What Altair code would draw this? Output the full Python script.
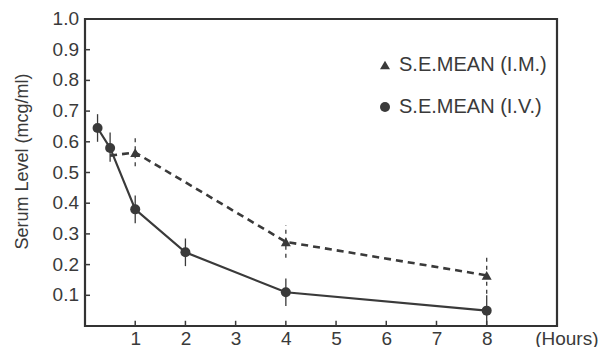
import altair as alt
import pandas as pd

# ---- data ----
iv_hours = [0.25, 0.5, 1, 2, 4, 8]
iv_level = [0.645, 0.58, 0.38, 0.24, 0.11, 0.05]
iv_lo = [0.60, 0.535, 0.335, 0.195, 0.065, 0.0]
iv_hi = [0.69, 0.63, 0.425, 0.285, 0.155, 0.10]

im_line_hours = [0.5, 1, 4, 8]
im_line_level = [0.555, 0.565, 0.274, 0.165]
im_hours = [1, 4, 8]
im_level = [0.565, 0.274, 0.165]
im_lo = [0.52, 0.222, 0.105]
im_hi = [0.625, 0.328, 0.225]

series_names = ["S.E.MEAN (I.M.)", "S.E.MEAN (I.V.)"]
x_tick_values = [1, 2, 3, 4, 5, 6, 7, 8]
y_tick_values = [0.1, 0.2, 0.3, 0.4, 0.5, 0.6, 0.7, 0.8, 0.9]
y_label_values = [0.1, 0.2, 0.3, 0.4, 0.5, 0.6, 0.7, 0.8, 0.9, 1.0]
y_label_texts = ["0.1", "0.2", "0.3", "0.4", "0.5", "0.6", "0.7", "0.8", "0.9", "1.0"]

INK = "#3a3a3a"
FONT = "Liberation Sans"

iv_df = pd.DataFrame({"h": iv_hours, "v": iv_level, "lo": iv_lo, "hi": iv_hi})
im_line_df = pd.DataFrame({"h": im_line_hours, "v": im_line_level})
im_df = pd.DataFrame({"h": im_hours, "v": im_level, "lo": im_lo, "hi": im_hi})
pts_df = pd.concat([
    pd.DataFrame({"h": im_hours, "v": im_level, "s": series_names[0]}),
    pd.DataFrame({"h": iv_hours, "v": iv_level, "s": series_names[1]}),
])
xt_df = pd.DataFrame({"t": x_tick_values})
yt_df = pd.DataFrame({"t": y_tick_values})
yl_df = pd.DataFrame({"t": y_label_values, "lab": y_label_texts})

xs = alt.Scale(domain=[0, 9.4], nice=False, zero=False)
ys = alt.Scale(domain=[0, 1.0], nice=False)

x_axis = alt.Axis(values=x_tick_values, labelPadding=3,
                  title="(Hours)", titleFontSize=19, titleAlign="right", titleAnchor="end",
                  titleBaseline="middle", titleX=513, titleY=12)
y_axis = alt.Axis(labels=False, title="Serum Level (mcg/ml)", titleFontSize=18, titleAngle=270,
                  titleAlign="center", titleBaseline="middle", titleX=-63, titleY=142)

base_x = alt.X("h:Q", scale=xs, axis=x_axis)
base_y = alt.Y("v:Q", scale=ys, axis=y_axis)

iv_line = alt.Chart(iv_df).mark_line(color=INK, strokeWidth=2.2).encode(x=base_x, y=base_y)
im_line = alt.Chart(im_line_df).mark_line(color=INK, strokeWidth=2.6, strokeDash=[7, 5]).encode(
    x=alt.X("h:Q", scale=xs), y=alt.Y("v:Q", scale=ys))

iv_err = alt.Chart(iv_df).mark_rule(color=INK, strokeWidth=1.3).encode(
    x=alt.X("h:Q", scale=xs), y=alt.Y("lo:Q", scale=ys), y2="hi:Q")
im_err = alt.Chart(im_df).mark_rule(color=INK, strokeWidth=1.3, strokeDash=[4, 4]).encode(
    x=alt.X("h:Q", scale=xs), y=alt.Y("lo:Q", scale=ys), y2="hi:Q")

points = alt.Chart(pts_df).mark_point(filled=True, opacity=1, color=INK, size=100).encode(
    x=alt.X("h:Q", scale=xs),
    y=alt.Y("v:Q", scale=ys),
    shape=alt.Shape("s:N", scale=alt.Scale(domain=series_names, range=["triangle-up", "circle"]),
                    legend=alt.Legend(orient="none", legendX=290, legendY=36, title=None,
                                      labelFontSize=20, labelFont=FONT, labelColor=INK,
                                      symbolSize=100, symbolFillColor=INK, symbolStrokeColor=INK,
                                      symbolStrokeWidth=0, rowPadding=22, labelOffset=4,
                                      padding=0)),
)

x_ticks = alt.Chart(xt_df).mark_rule(color=INK, strokeWidth=1.5).encode(
    x=alt.X("t:Q", scale=xs), y=alt.datum(0, scale=ys), y2=alt.datum(0.017))
y_ticks = alt.Chart(yt_df).mark_rule(color=INK, strokeWidth=1.5).encode(
    y=alt.Y("t:Q", scale=ys), x=alt.datum(0, scale=xs), x2=alt.datum(0.1))

y_labels = alt.Chart(yl_df).mark_text(
    align="right", baseline="middle", dx=-6, font=FONT, fontSize=19, color=INK
).encode(x=alt.datum(0, scale=xs), y=alt.Y("t:Q", scale=ys), text="lab:N")

chart = alt.layer(iv_line, im_line, iv_err, im_err, x_ticks, y_ticks, points, y_labels).properties(
    width=472, height=307,
    autosize=alt.AutoSizeParams(type="none"),
    padding={"left": 77, "top": 11, "right": 47, "bottom": 21},
    background="white",
).configure_view(stroke="#333333", strokeWidth=2.2, clip=False).configure_axis(
    grid=False, domain=False, ticks=False, tickSize=0, labelOverlap=False,
    labelFont=FONT, labelFontSize=19, labelColor=INK,
    titleFont=FONT, titleFontSize=17, titleFontWeight="normal", titleColor=INK,
)

chart.save("out.html", embed_options={"renderer": "svg", "actions": False})
